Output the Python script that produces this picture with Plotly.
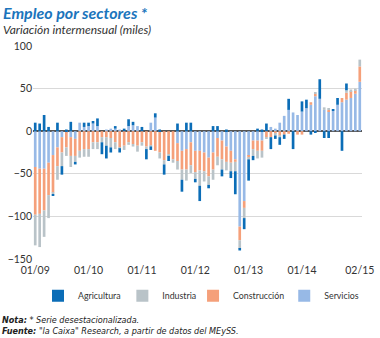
import plotly.graph_objects as go

months = [f"{m:02d}/{y:02d}" for y in range(9, 16) for m in range(1, 13)][:74]

agricultura = [10, 9, 19, 5, -2, 10, -10, 2, 11, -3, 0, 5, 4, 3, 9, -14, -15, -6, 3, -5,
               3, 8, 4, 0, 5, -12, -4, 5, 2, -12, -6, 0, 9, -14, 10, 10, -4, -18, 0, -4,
               6, 6, -8, 2, -8, -27, -2, -13, -25, -5, 3, 2, 9, -14, -4, -9, -5, 13, -21, 0,
               12, 10, -4, -2, 23, -8, -8, 2, 8, -23, 8, 0, 0, 0]
industria = [-36, -39, -31, -27, -2, -16, -16, -10, -13, -7, -8, -9, -9, -8, -8, -6, -10, -11, -8, -1,
             -5, -3, -3, -7, -4, -3, -1, 0, -7, -5, -2, -4, -10, -12, -13, -9, -8, -18, -12, -10,
             -12, -10, -12, -10, -10, -11, -10, -12, -2, -8, -9, -8, -1, 0, -2, -2, 0, 0, 0, 0,
             0, 0, 0, 2, 0, 3, 2, 0, 0, 0, 3, 2, 2, 8]
construccion = [-56, -53, -49, -38, -44, -22, -18, -18, -22, -20, -23, -21, -21, -13, -13, -7, -7, -8, -13, -19,
                -17, -13, -15, -17, -13, -18, -17, -23, -25, -34, -27, -33, -21, -22, -24, -27, -25, -23, -22, -22,
                -20, -22, -22, -18, -14, -3, -16, -8, -2, -10, -12, -12, -7, -7, -3, -5, -4, -3, 0, -4,
                -4, 0, 3, 3, 0, 0, 2, 0, 0, 5, 8, 8, 4, 18]
servicios = [-42, -44, -44, -37, -28, -19, -7, -1, -7, -9, 10, 5, 6, 9, 6, 0, 2, 3, 3, 2,
             0, 6, 7, 6, 0, 0, 10, 16, 0, 0, 0, 0, -14, -23, -21, -13, -23, -23, -25, -31,
             -25, -8, -11, -18, -23, -33, -112, -82, -29, -11, -11, -11, 0, 5, 3, 10, 18, 25, 22, 19,
             23, 27, 31, 41, 38, 25, 23, 24, 31, 34, 37, 39, 44, 58]

tick_months = ["01/09", "01/10", "01/11", "01/12", "01/13", "01/14", "02/15"]
y_ticks = [-150, -100, -50, 0, 50, 100]

# (name, values, colour, legend id, legend x in container fraction)
series = [
    ("Servicios", servicios, "#97b9e6", "legend4", 0.748),
    ("Construcción", construccion, "#f5a07a", "legend3", 0.508),
    ("Industria", industria, "#b9c3c8", "legend2", 0.322),
    ("Agricultura", agricultura, "#0b6db7", "legend", 0.100),
]

fig = go.Figure()
for name, vals, color, lg, _ in series:
    fig.add_trace(go.Bar(x=months, y=vals, name=name, marker_color=color,
                         marker_line_width=0, legend=lg))

note_font = dict(family="Liberation Sans Narrow, DejaVu Sans Condensed, sans-serif", size=9, color="#222222")

legend_layout = {}
for name, vals, color, lg, lx in series:
    legend_layout[lg] = dict(orientation="h", xref="container", yref="container",
                             x=lx, xanchor="left", y=0.125, yanchor="middle",
                             font=dict(size=8.8, color="#333333"),
                             bgcolor="rgba(0,0,0,0)", itemwidth=30)

fig.update_layout(
    width=380, height=338,
    margin=dict(l=33, r=18, t=46, b=79, autoexpand=False),
    barmode="relative", bargap=0.4,
    paper_bgcolor="white", plot_bgcolor="white",
    font=dict(family="Lato, Open Sans, sans-serif", color="#333333", size=10),
    showlegend=True,
    xaxis=dict(type="category", categoryorder="array", categoryarray=months,
               tickmode="array", tickvals=tick_months, ticktext=tick_months,
               showgrid=False, showline=False, ticks="", zeroline=False,
               ticklabelstandoff=3,
               tickfont=dict(size=10.5, color="#333333"), range=[-0.5, 73.5]),
    yaxis=dict(range=[-150, 100], tickmode="array", tickvals=y_ticks,
               showgrid=True, gridcolor="#d9d9d9", gridwidth=1,
               zeroline=True, zerolinecolor="#555555", zerolinewidth=1.5,
               showline=False, ticks="", tickfont=dict(size=10.5, color="#333333")),
    annotations=[
        dict(text="<b><i>Empleo por sectores *</i></b>", xref="paper", yref="paper",
             x=-0.075, y=1.105, xanchor="left", yanchor="bottom", showarrow=False,
             xshift=-7, font=dict(family="Lato, Open Sans, sans-serif", size=16, color="#1b75bc")),
        dict(text="<i>Variación intermensual (miles)</i>", xref="paper", yref="paper",
             x=-0.075, y=1.035, xanchor="left", yanchor="bottom", showarrow=False,
             xshift=-7, font=dict(family="Lato, Open Sans, sans-serif", size=12, color="#333333")),
        dict(text="<b><i>Nota:</i></b><i> * Serie desestacionalizada.</i>", xref="paper", yref="paper",
             x=-0.075, y=-0.255, xanchor="left", yanchor="top", showarrow=False, xshift=-8,
             font=note_font),
        dict(text="<b><i>Fuente:</i></b><i> \"la Caixa\" Research, a partir de datos del MEySS.</i>",
             xref="paper", yref="paper",
             x=-0.075, y=-0.305, xanchor="left", yanchor="top", showarrow=False, xshift=-8,
             font=note_font),
    ],
    **legend_layout,
)

fig.write_html("out.html")
